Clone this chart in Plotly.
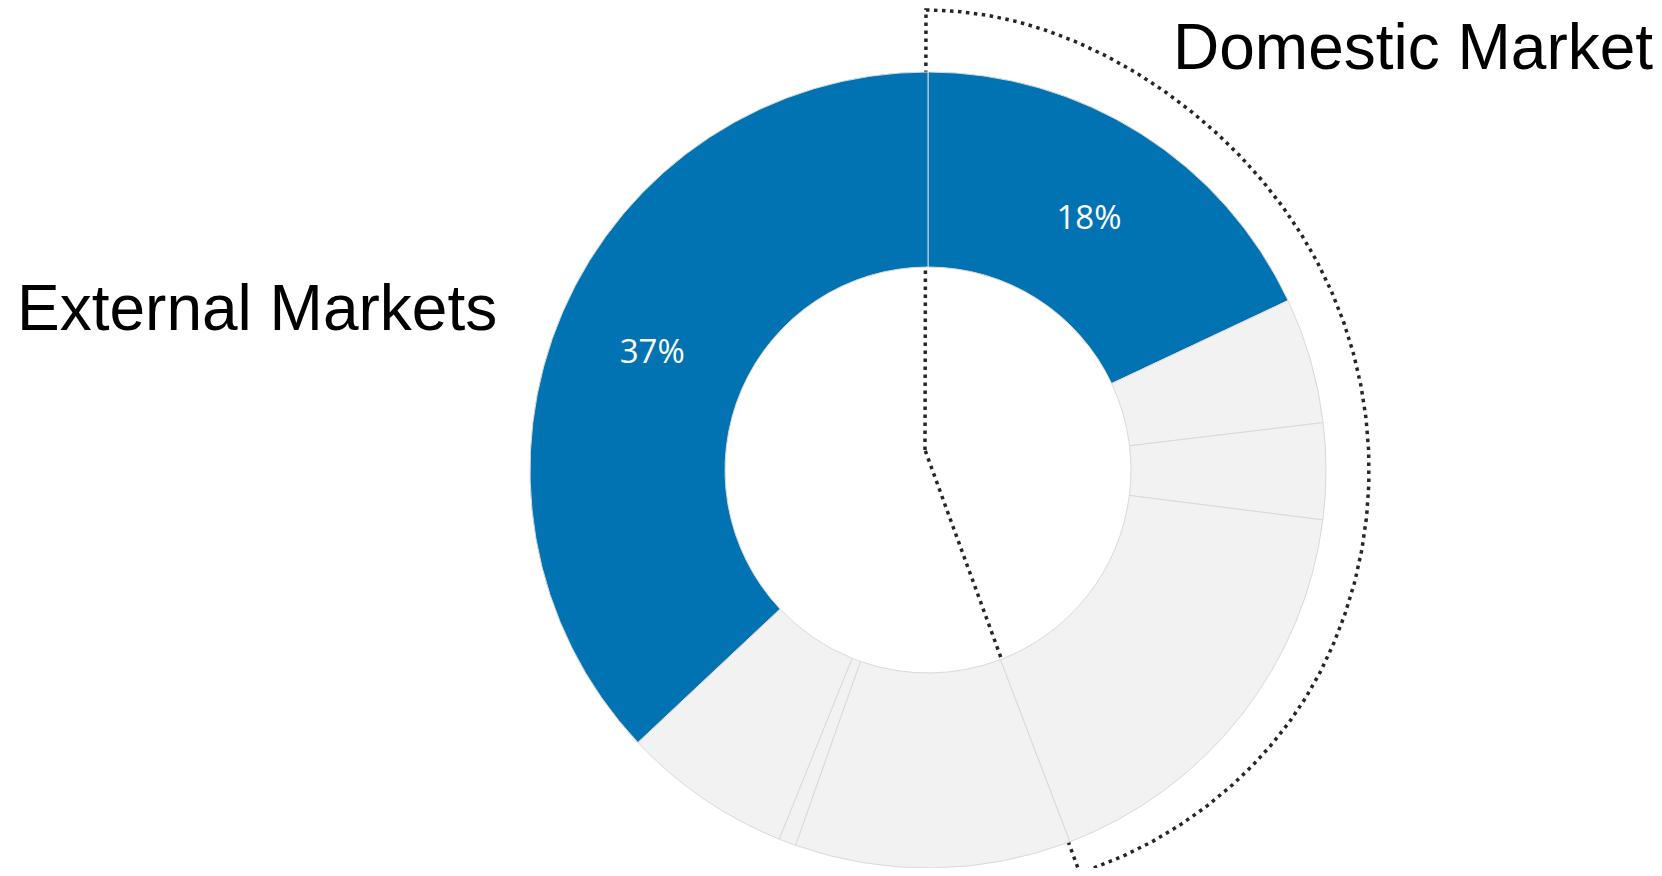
import numpy as np
import plotly.graph_objects as go

# ---- data ----
segments = ["Domestic A", "Domestic B", "Domestic C", "Domestic D",
            "External D", "External C", "External B", "External A"]
shares = [18.0, 5.1, 3.9, 17.2, 11.2, 0.7, 6.9, 37.0]
slice_text = ["18%", "", "", "", "", "", "", "37%"]
is_highlight = [True, False, False, False, False, False, False, True]
domestic_count = 4
group_labels = ["Domestic Market", "External Markets"]

# ---- style / layout constants (pixels of the figure) ----
W, H = 1646, 860
CX, CY, R = 920.0, 462.0, 398.0          # pie centre / radius
HOLE = 0.51
BLUE, GREY, EDGE = "#0173B2", "#F2F2F2", "#D9D9D9"

colors = [BLUE if h else GREY for h in is_highlight]

fig = go.Figure()

fig.add_trace(go.Pie(
    labels=segments, values=shares, text=slice_text,
    textinfo="text", textposition="inside", insidetextorientation="horizontal",
    textfont=dict(family="Open Sans", size=33, color="white"),
    marker=dict(colors=colors, line=dict(color=EDGE, width=1)),
    hole=HOLE, sort=False, direction="clockwise", rotation=0,
    domain=dict(x=[(CX - R) / W, (CX + R) / W],
                y=[max(0.0, (H - CY - R) / H), min(1.0, (H - CY + R) / H)]),
    showlegend=False, hoverinfo="label+percent",
))

# dotted outline around the domestic share (derived from the data)
dom_frac = sum(shares[:domestic_count]) / sum(shares)
theta_end = dom_frac * 2 * np.pi
t = np.linspace(0, theta_end, 300)
taper_start = np.deg2rad(115)
taper = np.clip((t - taper_start) / (theta_end - taper_start), 0, None) ** 2
arc_r = 443 + 17 * np.cos(t) ** 8 - 22 * taper
arc_x = CX - 2 + arc_r * np.sin(t)
arc_y = CY - arc_r * np.cos(t)
apex_x, apex_y = CX - 3, CY - 20
ox = np.concatenate([[apex_x], arc_x, [apex_x]])
oy = np.concatenate([[apex_y], arc_y, [apex_y]])

fig.add_trace(go.Scatter(
    x=ox, y=oy, mode="lines",
    line=dict(color="#262626", width=3.5, dash="3.5px,4.5px"),
    hoverinfo="skip", showlegend=False,
))

fig.update_layout(
    width=W, height=H, autosize=False,
    margin=dict(l=0, r=0, t=0, b=0),
    paper_bgcolor="white", plot_bgcolor="rgba(0,0,0,0)",
    xaxis=dict(range=[0, W], visible=False, fixedrange=True),
    yaxis=dict(range=[H, 0], visible=False, fixedrange=True),
    annotations=[
        dict(x=1163, y=39, xref="x", yref="y", text=group_labels[0],
             showarrow=False, xanchor="left", yanchor="middle",
             font=dict(family="Liberation Sans, Arial", size=64, color="black")),
        dict(x=7, y=300, xref="x", yref="y", text=group_labels[1],
             showarrow=False, xanchor="left", yanchor="middle",
             font=dict(family="Liberation Sans, Arial", size=64, color="black")),
    ],
)

fig.write_html("out.html")
